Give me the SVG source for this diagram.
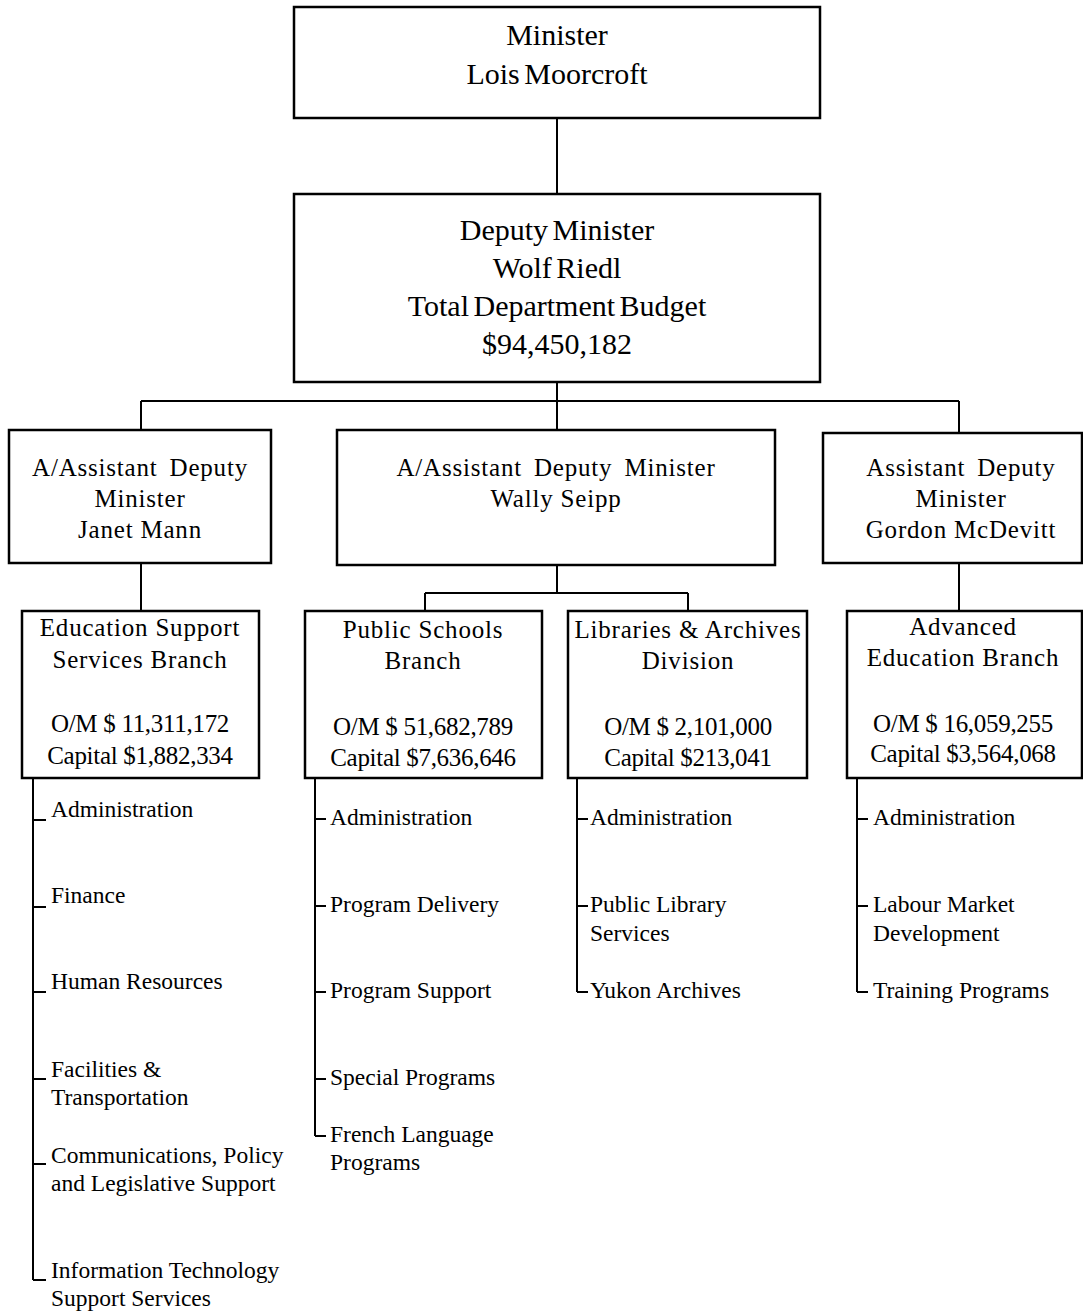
<svg xmlns="http://www.w3.org/2000/svg" width="1083" height="1312" viewBox="0 0 1083 1312">
<style>
.box{fill:#fff;stroke:#000;stroke-width:2.5}
.ln{fill:none;stroke:#000;stroke-width:2}
text{font-family:"Liberation Serif","Times New Roman",serif;fill:#000}
.top{font-size:30px;text-anchor:middle;word-spacing:-3px}
.adm{font-size:25px;text-anchor:middle;letter-spacing:0.8px}
.ws{word-spacing:5px}
.ttl{font-size:25px;text-anchor:middle;letter-spacing:0.8px}
.bud{font-size:25px;text-anchor:middle;letter-spacing:-0.3px}
.item{font-size:23.5px}
</style>
<rect width="1083" height="1312" fill="#fff"/>
<g id="connectors">
<path class="ln" d="M557,118V194"/>
<path class="ln" d="M557,382V401M141,401H959M141,401V430M557,401V430M959,401V433"/>
<path class="ln" d="M141,563V611"/>
<path class="ln" d="M557,565V593M425,593H688M425,593V611M688,593V611"/>
<path class="ln" d="M959,563V611"/>
<path class="ln" d="M33,778V1280M33,820H46M33,907H46M33,992H46M33,1079H46M33,1164H46M33,1280H46"/>
<path class="ln" d="M315,778V1136M315,819H326M315,906H326M315,992H326M315,1079H326M315,1136H326"/>
<path class="ln" d="M577,778V992M577,819H588M577,906H588M577,992H588"/>
<path class="ln" d="M857,778V992M857,819H868M857,906H868M857,992H868"/>
</g>
<g id="minister">
<rect class="box" x="294" y="7" width="526" height="111"/>
<text class="top" x="557" y="45">Minister</text>
<text class="top" x="557" y="84">Lois Moorcroft</text>
</g>
<g id="deputy">
<rect class="box" x="294" y="194" width="526" height="188"/>
<text class="top" x="557" y="240">Deputy Minister</text>
<text class="top" x="557" y="278">Wolf Riedl</text>
<text class="top" x="557" y="316">Total Department Budget</text>
<text class="top" x="557" y="354">$94,450,182</text>
</g>
<g id="adm-mann">
<rect class="box" x="9" y="430" width="262" height="133"/>
<text class="adm ws" x="140" y="476">A/Assistant Deputy</text>
<text class="adm" x="140" y="507">Minister</text>
<text class="adm" x="140" y="538">Janet Mann</text>
</g>
<g id="adm-seipp">
<rect class="box" x="337" y="430" width="438" height="135"/>
<text class="adm ws" x="556" y="476">A/Assistant Deputy Minister</text>
<text class="adm" x="556" y="507">Wally Seipp</text>
</g>
<g id="adm-mcdevitt">
<rect class="box" x="823" y="433" width="259" height="130"/>
<text class="adm ws" x="961" y="476">Assistant Deputy</text>
<text class="adm" x="961" y="507">Minister</text>
<text class="adm" x="961" y="538">Gordon McDevitt</text>
</g>
<g id="education-support">
<rect class="box" x="22" y="611" width="237" height="167"/>
<text class="ttl" x="140" y="636">Education Support</text>
<text class="ttl" x="140" y="668">Services Branch</text>
<text class="bud" x="140" y="732">O/M $ 11,311,172</text>
<text class="bud" x="140" y="764">Capital $1,882,334</text>
</g>
<g id="public-schools">
<rect class="box" x="305" y="611" width="237" height="167"/>
<text class="ttl" x="423" y="638">Public Schools</text>
<text class="ttl" x="423" y="669">Branch</text>
<text class="bud" x="423" y="735">O/M $ 51,682,789</text>
<text class="bud" x="423" y="766">Capital $7,636,646</text>
</g>
<g id="libraries-archives">
<rect class="box" x="568" y="611" width="239" height="167"/>
<text class="ttl" x="688" y="638">Libraries &amp; Archives</text>
<text class="ttl" x="688" y="669">Division</text>
<text class="bud" x="688" y="735">O/M $ 2,101,000</text>
<text class="bud" x="688" y="766">Capital $213,041</text>
</g>
<g id="advanced-education">
<rect class="box" x="847" y="611" width="235" height="167"/>
<text class="ttl" x="963" y="635">Advanced</text>
<text class="ttl" x="963" y="666">Education Branch</text>
<text class="bud" x="963" y="732">O/M $ 16,059,255</text>
<text class="bud" x="963" y="762">Capital $3,564,068</text>
</g>
<g id="ess-items">
<text class="item" x="51" y="817">Administration</text>
<text class="item" x="51" y="903">Finance</text>
<text class="item" x="51" y="989">Human Resources</text>
<text class="item" x="51" y="1077">Facilities &amp;</text>
<text class="item" x="51" y="1105">Transportation</text>
<text class="item" x="51" y="1163">Communications, Policy</text>
<text class="item" x="51" y="1191">and Legislative Support</text>
<text class="item" x="51" y="1278">Information Technology</text>
<text class="item" x="51" y="1306">Support Services</text>
</g>
<g id="ps-items">
<text class="item" x="330" y="825">Administration</text>
<text class="item" x="330" y="912">Program Delivery</text>
<text class="item" x="330" y="998">Program Support</text>
<text class="item" x="330" y="1085">Special Programs</text>
<text class="item" x="330" y="1142">French Language</text>
<text class="item" x="330" y="1170">Programs</text>
</g>
<g id="la-items">
<text class="item" x="590" y="825">Administration</text>
<text class="item" x="590" y="912">Public Library</text>
<text class="item" x="590" y="941">Services</text>
<text class="item" x="590" y="998">Yukon Archives</text>
</g>
<g id="ae-items">
<text class="item" x="873" y="825">Administration</text>
<text class="item" x="873" y="912">Labour Market</text>
<text class="item" x="873" y="941">Development</text>
<text class="item" x="873" y="998">Training Programs</text>
</g>
</svg>
